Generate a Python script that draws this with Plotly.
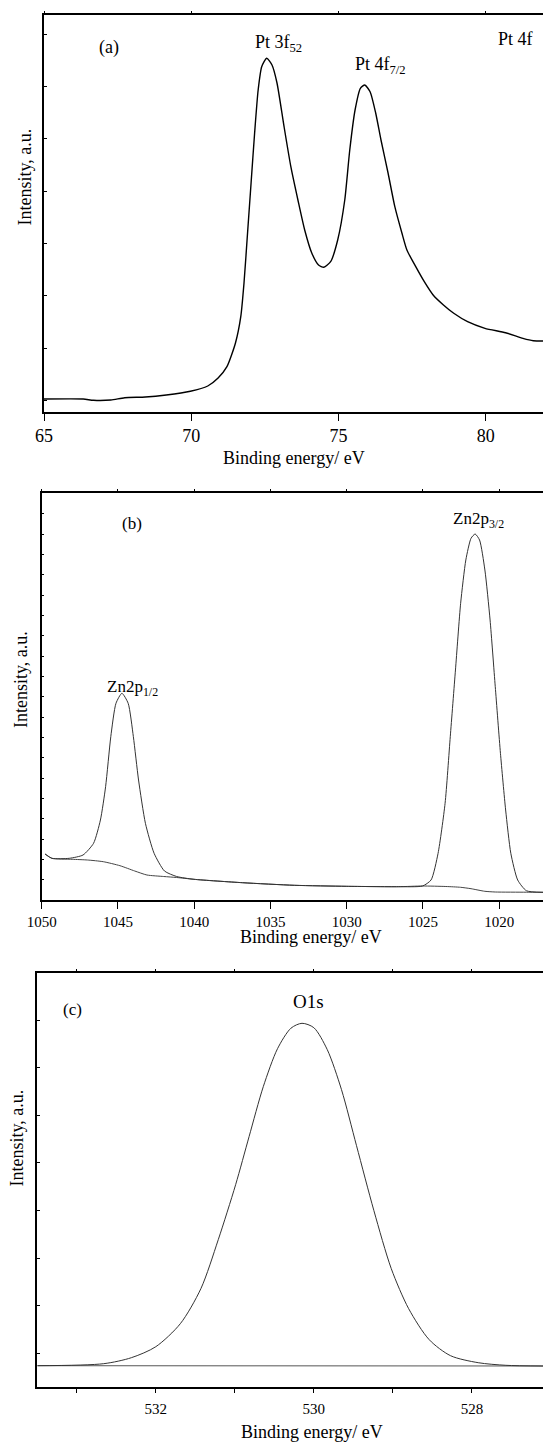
import plotly.graph_objects as go

# ---------------- data ----------------
# (a) Pt 4f
a_energy = [65.0, 66.33, 66.68, 67.27, 67.74, 68.44, 69.15, 69.97, 70.56, 70.91,
            71.21, 71.50, 71.68, 71.79, 71.91, 72.03, 72.15, 72.27, 72.39, 72.56,
            72.74, 72.91, 73.15, 73.38, 73.62, 73.85, 74.09, 74.32, 74.50, 74.73,
            74.97, 75.21, 75.38, 75.56, 75.74, 75.89, 76.07, 76.26, 76.44, 76.68,
            76.91, 77.15, 77.32, 77.62, 77.91, 78.21, 78.56, 78.91, 79.38, 79.97,
            80.67, 81.26, 81.61, 81.94]
a_intensity = [13, 13, 11.7, 12, 14.3, 15, 17, 20.7, 26, 34,
               45.3, 69, 95.3, 129, 179, 229, 279, 322, 345.3, 353.7,
               347, 329, 285.3, 245.3, 212, 182, 159, 147, 144.7, 150.3,
               172, 212, 262, 302, 323.7, 327, 320.3, 299, 272, 239,
               205.3, 179, 162, 145.3, 130.3, 117, 107, 98.7, 90.3, 83.7,
               79.3, 73.7, 71.3, 71]

# (b) Zn 2p
b_energy = [1049.78, 1049.33, 1048.19, 1047.29, 1046.60, 1046.15, 1045.81, 1045.47,
            1045.13, 1044.74, 1044.33, 1043.99, 1043.65, 1043.20, 1042.63, 1041.95,
            1041.15, 1040.02, 1036.84, 1033.43, 1030.03, 1026.62, 1025.03, 1024.47,
            1024.01, 1023.55, 1023.21, 1022.87, 1022.53, 1022.19, 1021.85, 1021.58,
            1021.29, 1020.94, 1020.60, 1020.26, 1019.92, 1019.58, 1019.24, 1018.79,
            1018.22, 1017.13]
b_intensity = [46, 41.7, 41.7, 45, 56.7, 80, 113.3, 163.3,
               196.7, 206.7, 196.7, 163.3, 120, 76.7, 46.7, 29,
               23.5, 20.7, 17.3, 14.7, 13.7, 13.3, 14, 20,
               46.7, 96.7, 163.3, 230, 296.7, 340, 361.7, 366,
               360, 330, 280, 213.3, 146.7, 90, 46.7, 20,
               9.3, 7.7]
b_bg_energy = [1049.78, 1049.34, 1048.0, 1047.0, 1045.96, 1044.87, 1043.9, 1043.1,
               1042.0, 1041.15, 1040.02, 1036.84, 1033.43, 1030.03, 1026.62, 1025.03,
               1023.5, 1022.53, 1021.85, 1020.94, 1020.26, 1018.22, 1017.13]
b_background = [46, 41.7, 40.7, 40, 38.3, 34.3, 29, 25,
                23.5, 22.5, 20.7, 17.3, 14.7, 13.7, 13.3, 14,
                13.5, 12.7, 11.3, 8.7, 8, 7.8, 7.7]

# (c) O 1s
c_energy = [533.50, 532.66, 532.31, 532.0, 531.69, 531.43, 531.21, 530.99, 530.82,
            530.64, 530.46, 530.29, 530.15, 530.0, 529.83, 529.65, 529.46, 529.24,
            529.02, 528.80, 528.54, 528.27, 527.92, 527.57, 527.1]
c_intensity = [21, 23, 29, 40, 63, 98, 147, 202, 250,
               300, 338, 358.5, 363.4, 359, 337, 297, 241, 176,
               118, 78, 47, 31, 24, 21.4, 20.7]
c_bg_energy = [533.50, 527.1]
c_background = [21, 20.7]

# tick labels
a_tickvals = [65, 70, 75, 80]
a_ticktext = ["65", "70", "75", "80"]
b_tickvals = [1050, 1045, 1040, 1035, 1030, 1025, 1020]
b_ticktext = ["1050", "1045", "1040", "1035", "1030", "1025", "1020"]
c_tickvals = [533, 532, 531, 530, 529, 528]
c_ticktext = ["", "532", "", "530", "", "528"]

# ---------------- layout helpers ----------------
W, H = 543, 1442
FONT = "Liberation Serif"


def px(x):
    return x / W


def py(y):
    return 1 - y / H


fig = go.Figure()

fig.add_trace(go.Scatter(x=a_energy, y=a_intensity, mode="lines",
                         line=dict(color="black", width=1.4, shape="spline", smoothing=0.6),
                         xaxis="x", yaxis="y", showlegend=False))
fig.add_trace(go.Scatter(x=b_bg_energy, y=b_background, mode="lines",
                         line=dict(color="#444", width=1, shape="spline", smoothing=0.6),
                         xaxis="x2", yaxis="y2", showlegend=False))
fig.add_trace(go.Scatter(x=b_energy, y=b_intensity, mode="lines",
                         line=dict(color="#333", width=1, shape="spline", smoothing=0.6),
                         xaxis="x2", yaxis="y2", showlegend=False))
fig.add_trace(go.Scatter(x=c_bg_energy, y=c_background, mode="lines",
                         line=dict(color="#555", width=1),
                         xaxis="x3", yaxis="y3", showlegend=False))
fig.add_trace(go.Scatter(x=c_energy, y=c_intensity, mode="lines",
                         line=dict(color="#333", width=1, shape="spline", smoothing=0.8),
                         xaxis="x3", yaxis="y3", showlegend=False))
# invisible traces so that the top tick axes are drawn
fig.add_trace(go.Scatter(x=[a_energy[0]], y=[a_intensity[0]], mode="none",
                         xaxis="x4", yaxis="y", showlegend=False, hoverinfo="skip"))
fig.add_trace(go.Scatter(x=[b_energy[0]], y=[b_intensity[0]], mode="none",
                         xaxis="x5", yaxis="y2", showlegend=False, hoverinfo="skip"))
fig.add_trace(go.Scatter(x=[c_energy[0]], y=[c_intensity[0]], mode="none",
                         xaxis="x6", yaxis="y3", showlegend=False, hoverinfo="skip"))

common_x = dict(showline=True, linecolor="black", linewidth=1.5, mirror=True,
                ticks="outside", tickcolor="black", tickwidth=1, showgrid=False,
                zeroline=False, tickmode="array")
top_x = dict(showline=False, ticks="outside", ticklen=3, tickcolor="black",
             tickwidth=1, showticklabels=False, showgrid=False, zeroline=False,
             tickmode="array", side="top")
common_y = dict(showline=True, linecolor="black", linewidth=1.5, mirror=False,
                ticks="inside", ticklen=3, tickcolor="black", tickwidth=1,
                showticklabels=False, showgrid=False, zeroline=False)

fig.update_layout(
    width=W, height=H,
    margin=dict(l=0, r=0, t=0, b=0, autoexpand=False),
    paper_bgcolor="white", plot_bgcolor="white",
    font=dict(family=FONT, color="black"),
    xaxis=dict(common_x, domain=[px(44), 1], range=[65, 81.94],
               tickvals=a_tickvals, ticktext=a_ticktext, ticklen=7,
               tickfont=dict(size=18, family=FONT), anchor="y"),
    xaxis4=dict(top_x, domain=[px(44), 1], range=[65, 81.94], tickvals=a_tickvals,
                overlaying="x", anchor="y"),
    yaxis=dict(common_y, domain=[py(412), py(14.5)], range=[0, 397.5],
               tick0=11.6, dtick=52.3, anchor="x"),
    xaxis2=dict(common_x, domain=[px(41.7), 1], range=[1050, 1017.13],
                tickvals=b_tickvals, ticktext=b_ticktext, ticklen=7,
                tickfont=dict(size=15, family=FONT), anchor="y2"),
    xaxis5=dict(top_x, domain=[px(41.7), 1], range=[1050, 1017.13], tickvals=b_tickvals,
                overlaying="x2", anchor="y2"),
    yaxis2=dict(common_y, domain=[py(900), py(493.3)], range=[0, 406.7],
                tick0=0, dtick=20.33, anchor="x2"),
    xaxis3=dict(common_x, domain=[px(37.3), 1], range=[533.5, 527.1],
                tickvals=c_tickvals, ticktext=c_ticktext, ticklen=5,
                ticklabelstandoff=3,
                tickfont=dict(size=15, family=FONT), anchor="y3"),
    xaxis6=dict(top_x, domain=[px(37.3), 1], range=[533.5, 527.1], tickvals=c_tickvals,
                overlaying="x3", anchor="y3"),
    yaxis3=dict(common_y, domain=[py(1386.7), py(973.3)], range=[0, 413.4],
                tick0=33.4, dtick=47.6, anchor="x3"),
)

ann = []


def add_text(text, x, y, size, xanchor="center", yanchor="middle", angle=0, color="black"):
    ann.append(dict(text=text, x=px(x), y=py(y), xref="paper", yref="paper",
                    showarrow=False, xanchor=xanchor, yanchor=yanchor,
                    textangle=angle, font=dict(family=FONT, size=size, color=color)))


# axis titles
add_text("Binding energy/ eV", 293.5, 458, 18)
add_text("Intensity, a.u.", 24, 177.5, 18, angle=-90)
add_text("Binding energy/ eV", 311, 937, 18)
add_text("Intensity, a.u.", 21, 680, 18, angle=-90)
add_text("Binding energy/ eV", 311.8, 1432, 18)
add_text("Intensity, a.u.", 16.5, 1138, 18, angle=-90)

# panel labels
add_text("(a)", 108.8, 47.5, 18)
add_text("Pt 3f<sub>52</sub>", 253.3, 44, 18, xanchor="left")
add_text("Pt 4f<sub>7/2</sub>", 353.3, 66, 18, xanchor="left")
add_text("Pt 4f", 496, 38.7, 18, xanchor="left")

add_text("(b)", 131.7, 523.8, 17)
add_text("Zn2p<sub>3/2</sub>", 451, 520, 17, xanchor="left")
add_text("Zn2p<sub>1/2</sub>", 105, 688, 17, xanchor="left")

add_text("(c)", 72.2, 1009, 17)
add_text("O1s", 308, 1001.7, 19)

fig.update_layout(annotations=ann)

fig.write_html("out.html")
